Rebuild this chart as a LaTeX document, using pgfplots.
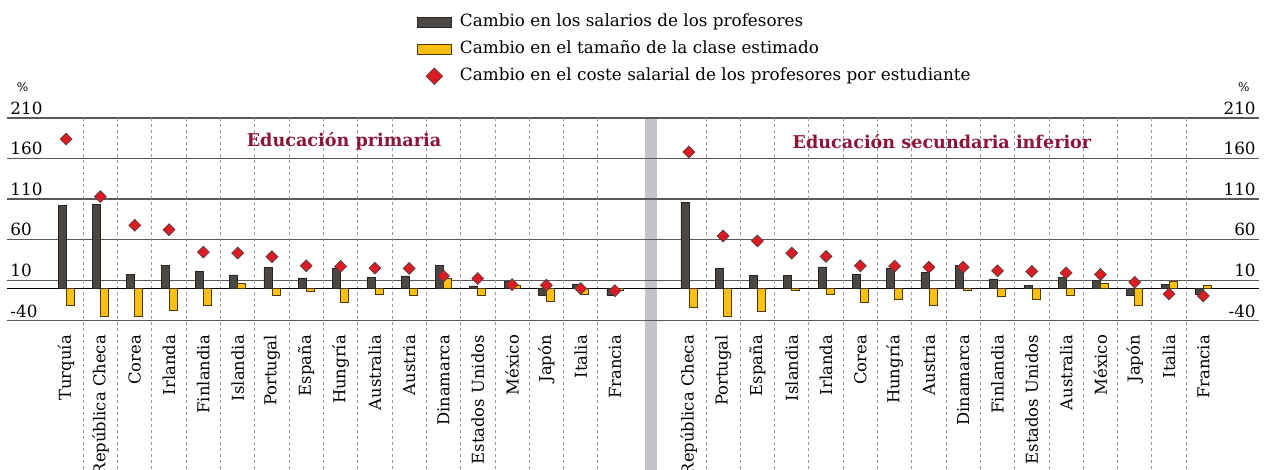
\documentclass[border=0pt]{standalone}
\usepackage{pgfplots}
\pgfplotsset{compat=1.18}
\usepackage{fontspec}
\setmainfont{DejaVu Serif}

\definecolor{salario}{HTML}{4D4744}
\definecolor{clase}{HTML}{FDC010}
\definecolor{coste}{HTML}{DC1C24}
\definecolor{titulo}{HTML}{8E1538}
\definecolor{banda}{HTML}{C4C4C8}

\newcommand{\txt}{\fontsize{8.4bp}{10bp}\selectfont}

\tikzset{dots/.style={draw=black!40, line width=0.4bp, dash pattern=on 1.5bp off 1.5bp}}

\pgfplotsset{
  panel/.style={
    scale only axis, height=101.35bp,
    ymin=-40, ymax=210,
    ytick={-40,10,60,110,160,210},
    yticklabels={-40,10,60,110,160,210},
    ymajorgrids, major grid style={draw=black!65, line width=0.6bp},
    axis line style={draw=none},
    tick style={draw=none},
    tick label style={font=\txt},
    xticklabel style={font=\fontsize{8.2bp}{10bp}\selectfont, yshift=-7bp, rotate=90, anchor=east, inner sep=0pt},
    clip=false,
  },
  barsal/.style={ybar, bar width=0.233, bar shift=-0.1166, fill=salario, draw=black!85, line width=0.3bp,
    legend image code/.code={\draw[fill=salario, draw=black!85, line width=0.3bp] (0bp,-2.6bp) rectangle (17bp,2.6bp);}},
  barcla/.style={ybar, bar width=0.233, bar shift=0.1166, fill=clase, draw=black!70!clase, line width=0.3bp,
    legend image code/.code={\draw[fill=clase, draw=black!70!clase, line width=0.3bp] (0bp,-2.6bp) rectangle (17bp,2.6bp);}},
  marcos/.style={only marks, mark=square*, mark size=2.12bp,
    mark options={rotate=45, fill=coste, draw=black!75, line width=0.3bp},
    legend image code/.code={\draw[only marks, mark=square*, mark size=2.95bp,
      mark options={rotate=45, fill=coste, draw=black!75, line width=0.3bp}] plot coordinates {(8.5bp,0bp)};}},
}

\begin{document}
\begin{tikzpicture}[x=0.5bp, y=0.5bp]
\useasboundingbox (0,0) rectangle (1266,470);
\fill[banda] (645,0) rectangle (657,352);

% Educación primaria
\begin{axis}[panel,
  at={(3.5bp,74.65bp)}, anchor=south west, width=322bp,
  xmin=-1.724, xmax=17.051,
  xtick={0,...,16},
  xticklabels={Turquía,República Checa,Corea,Irlanda,Finlandia,Islandia,Portugal,España,Hungría,Australia,Austria,Dinamarca,Estados Unidos,México,Japón,Italia,Francia},
  yticklabel style={anchor=south west, inner sep=1.5bp},
  legend style={at={(0.6367,1.5136)}, anchor=north west, draw=none, fill=none,
    inner sep=0pt, outer sep=0pt, font=\txt, cells={anchor=west},
    nodes={inner sep=0pt, text height=6.4bp, text depth=2bp},
    row sep=5.1bp, column sep=4.15bp},
]
\pgfplotsinvokeforeach{0.5,1.5,...,15.5}{\draw[dots] (axis cs:#1,210) -- (axis cs:#1,-230);}
\draw[black, line width=0.6bp] (axis cs:-1.724,0) -- (axis cs:17.051,0);
\addplot[barsal] coordinates {
  (0,102) (1,103) (2,17) (3,28.5) (4,21) (5,16.5) (6,25.6) (7,12.8) (8,25.2)
  (9,13.6) (10,15.3) (11,27.7) (12,2.9) (13,8.7) (14,-8.7) (15,5.4) (16,-8.7)};
\addlegendentry{Cambio en los salarios de los profesores}
\addplot[barcla] coordinates {
  (0,-20.7) (1,-34) (2,-34) (3,-27) (4,-20.7) (5,6.2) (6,-9) (7,-3.3) (8,-17.8)
  (9,-7.4) (10,-9) (11,12.4) (12,-8.7) (13,3.7) (14,-16.5) (15,-7.4) (16,-2)};
\addlegendentry{Cambio en el tamaño de la clase estimado}
\addplot[marcos] coordinates {
  (0,184) (1,113) (2,77.7) (3,72.3) (4,44.6) (5,43.4) (6,39) (7,27.7) (8,26.9)
  (9,24.8) (10,24.4) (11,15.2) (12,12) (13,4.5) (14,3.7) (15,-0.4) (16,-3)};
\addlegendentry{Cambio en el coste salarial de los profesores por estudiante}
\node[font=\bfseries\fontsize{8.8bp}{10bp}\selectfont, text=titulo] at (axis cs:8.1,181.5) {Educación primaria};
\node[font=\fontsize{6bp}{7bp}\selectfont] at (axis description cs:0.024,1.153) {\%};
\end{axis}

% Educación secundaria inferior
\begin{axis}[panel,
  at={(325.5bp,74.65bp)}, anchor=south west, width=304bp,
  xmin=-1.102, xmax=16.624,
  xtick={0,...,15},
  xticklabels={República Checa,Portugal,España,Islandia,Irlanda,Corea,Hungría,Austria,Dinamarca,Finlandia,Estados Unidos,Australia,México,Japón,Italia,Francia},
  yticklabel pos=right,
  yticklabel style={anchor=south east, inner sep=1.5bp},
]
\pgfplotsinvokeforeach{0.5,1.5,...,14.5}{\draw[dots] (axis cs:#1,210) -- (axis cs:#1,-230);}
\draw[black, line width=0.6bp] (axis cs:-1.102,0) -- (axis cs:16.624,0);
\addplot[barsal] coordinates {
  (0,105.4) (1,25.2) (2,16.1) (3,16.1) (4,26.4) (5,17) (6,25.2) (7,19.4)
  (8,27.7) (9,11.6) (10,3.3) (11,13.2) (12,9.9) (13,-9) (14,5) (15,-7.4)};
\addplot[barcla] coordinates {
  (0,-24) (1,-34.3) (2,-28) (3,-2.9) (4,-7.4) (5,-17.8) (6,-13.6) (7,-21)
  (8,-2.9) (9,-9.9) (10,-13.6) (11,-8.3) (12,6.2) (13,-21) (14,9) (15,3.3)};
\addplot[marcos] coordinates {
  (0,168) (1,64.5) (2,58.3) (3,43.4) (4,39.3) (5,27.7) (6,27.3) (7,26)
  (8,26) (9,21.5) (10,20.7) (11,19) (12,17) (13,7.4) (14,-7) (15,-9.5)};
\node[font=\bfseries\fontsize{8.8bp}{10bp}\selectfont, text=titulo] at (axis cs:7.38,181.5) {Educación secundaria inferior};
\node[font=\fontsize{6bp}{7bp}\selectfont] at (axis description cs:0.975,1.153) {\%};
\end{axis}
\end{tikzpicture}
\end{document}
